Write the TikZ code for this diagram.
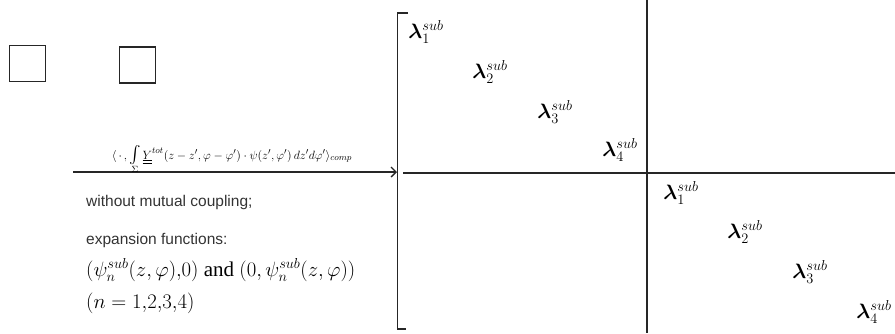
\documentclass[tikz,border=0pt]{standalone}
\usepackage{amsmath}
\usepackage{fontspec}
\setmainfont{Liberation Serif}
\newfontfamily\arialf{Liberation Sans}
\usetikzlibrary{arrows.meta}
\newcommand{\bigint}{\mathop{\text{\fontsize{19}{20}\selectfont$\int$}}\limits}
\newcommand{\lamb}{\boldsymbol{\lambda}}
\tikzset{
  sq/.style={draw=black!85, line width=1.2pt, minimum size=36pt, inner sep=0pt},
  ln/.style={draw=black!85, line width=1.3pt},
  lam/.style={inner sep=0pt, font=\fontsize{20}{24}\selectfont},
  txt/.style={inner sep=0pt, anchor=base west, font=\arialf\fontsize{15.5}{18}\selectfont, text=black!80},
  frm/.style={inner sep=0pt, anchor=base west, font=\fontsize{21}{24}\selectfont},
}
\begin{document}
\begin{tikzpicture}[x=1pt,y=-1pt]
\useasboundingbox (0,0) rectangle (895,333);
% boxes
\node[sq] (box1) at (27.5,63.5) {};
\node[sq] (box2) at (137.5,65) {};
% arrow
\coordinate (as) at (73,172);
\coordinate (ae) at (397,172);
\draw[ln, -{Straight Barb[length=5pt,width=10pt]}] (as) -- (ae);
\node[inner sep=0pt, anchor=base, font=\fontsize{12.8}{15}\selectfont] (kern) at (232,159)
  {$\langle\,\cdot\,,\bigint_{\Sigma}\underline{\underline{Y}}^{tot}(z-z',\varphi-\varphi')\cdot\psi(z',\varphi')\,dz'd\varphi'\rangle_{comp}$};
% texts
\node[txt] (t1) at (86,206) {without mutual coupling;};
\node[txt] (t2) at (86,244) {expansion functions:};
\node[frm] (t3) at (86,276) {$(\psi_n^{sub}(z,\varphi){,}0)$ and $(0,\psi_n^{sub}(z,\varphi))$};
\node[frm] (t4) at (86,308) {$(n=1{,}2{,}3{,}4)$};
% bracket
\coordinate (b1) at (408,13);
\coordinate (b2) at (397.5,13);
\coordinate (b3) at (397.5,329);
\coordinate (b4) at (406,329);
\draw[ln] (b1) -- (b2) -- (b3) -- (b4);
% axes
\coordinate (vt) at (647,0);
\coordinate (vb) at (647,333);
\coordinate (hl) at (403,173);
\coordinate (hr) at (895,173);
\draw[ln] (vt) -- (vb);
\draw[ln] (hl) -- (hr);
% eigenvalues
\node[lam] (l1) at (426,32) {$\lamb_1^{sub}$};
\node[lam] (l2) at (490,72) {$\lamb_2^{sub}$};
\node[lam] (l3) at (555,112) {$\lamb_3^{sub}$};
\node[lam] (l4) at (620,150) {$\lamb_4^{sub}$};
\node[lam] (m1) at (681,193) {$\lamb_1^{sub}$};
\node[lam] (m2) at (745,232) {$\lamb_2^{sub}$};
\node[lam] (m3) at (810,272) {$\lamb_3^{sub}$};
\node[lam] (m4) at (874,312) {$\lamb_4^{sub}$};
\end{tikzpicture}
\end{document}
